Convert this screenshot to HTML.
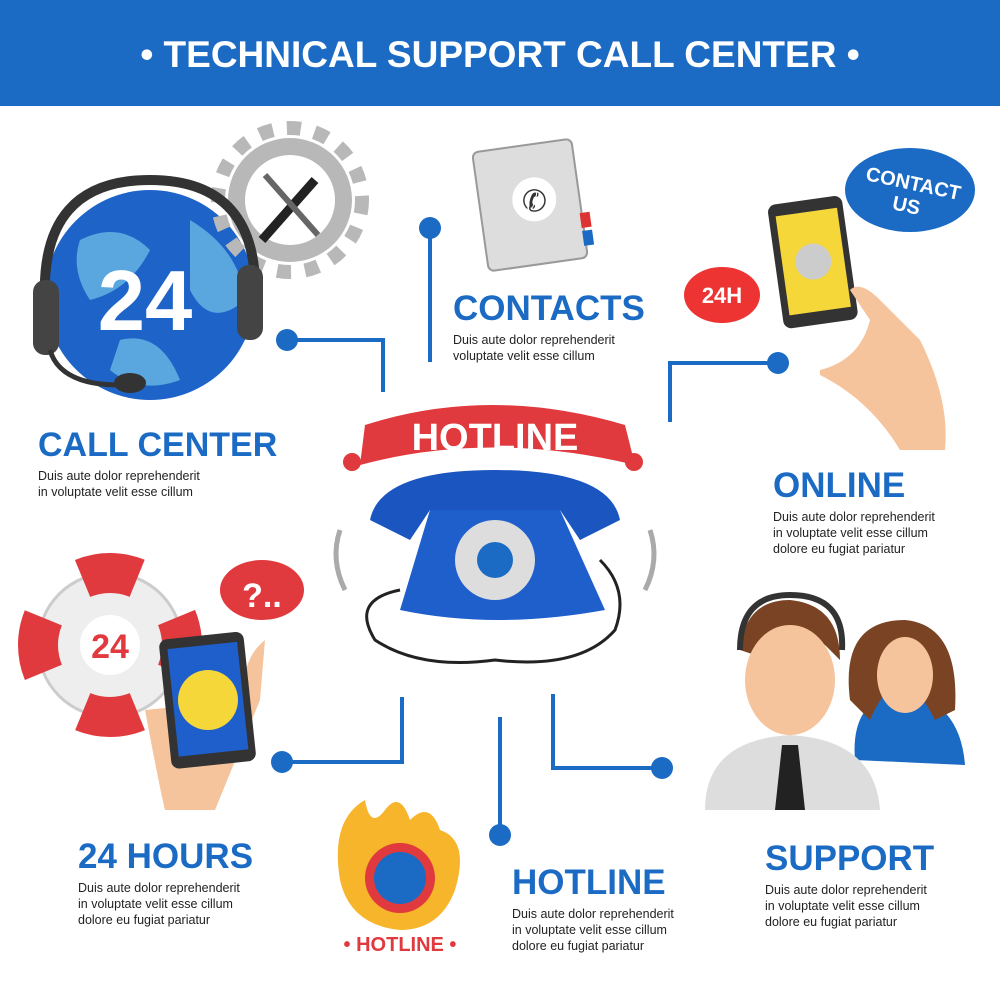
<!DOCTYPE html>
<html><head><meta charset="utf-8"><style>
html,body{margin:0;padding:0;background:#fff;}
svg{display:block}
.h{font-family:"Liberation Sans",sans-serif;font-weight:bold;fill:#1b6bc4;font-size:35px}
.b{font-family:"Liberation Sans",sans-serif;fill:#222;font-size:12.5px}
</style></head><body>
<svg width="1000" height="1000" viewBox="0 0 1000 1000" xmlns="http://www.w3.org/2000/svg">
<rect width="1000" height="106" fill="#1b6bc4"/>
<text x="500" y="67" text-anchor="middle" font-family="Liberation Sans,sans-serif" font-weight="bold" font-size="37" fill="#fff">• TECHNICAL SUPPORT CALL CENTER •</text>

<g stroke="#1b6bc4" stroke-width="4" fill="none">
<polyline points="287,340 383,340 383,392"/>
<polyline points="430,228 430,362"/>
<polyline points="778,363 670,363 670,422"/>
<polyline points="282,762 402,762 402,697"/>
<polyline points="500,835 500,717"/>
<polyline points="662,768 553,768 553,694"/>
</g>
<g fill="#1b6bc4">
<circle cx="287" cy="340" r="11"/><circle cx="430" cy="228" r="11"/><circle cx="778" cy="363" r="11"/>
<circle cx="282" cy="762" r="11"/><circle cx="500" cy="835" r="11"/><circle cx="662" cy="768" r="11"/>
</g>

<circle cx="150" cy="295" r="105" fill="#1e64c8"/>
<path d="M80,240 Q120,220 150,250 Q130,290 90,300 Q70,270 80,240Z M190,220 Q240,250 245,300 Q210,330 190,290Z M120,340 Q160,330 180,380 Q140,395 110,370Z" fill="#5aa7e0"/>
<circle cx="290" cy="200" r="62" fill="#b8b8b8"/>
<circle cx="290" cy="200" r="72" fill="none" stroke="#b8b8b8" stroke-width="14" stroke-dasharray="14 14"/>
<circle cx="290" cy="200" r="45" fill="#fff"/>
<path d="M262,240 L315,180" stroke="#222" stroke-width="9"/>
<path d="M265,175 L318,235" stroke="#666" stroke-width="6"/>
<path d="M45,300 Q40,180 150,180 Q260,180 255,300" stroke="#333" stroke-width="10" fill="none"/>
<rect x="33" y="280" width="26" height="75" rx="12" fill="#444"/>
<rect x="237" y="265" width="26" height="75" rx="12" fill="#444"/>
<path d="M50,350 Q60,385 120,385" stroke="#333" stroke-width="5" fill="none"/>
<ellipse cx="130" cy="383" rx="16" ry="10" fill="#333"/>
<text x="145" y="330" text-anchor="middle" font-family="Liberation Sans,sans-serif" font-weight="bold" font-size="85" fill="#fff">24</text>

<g transform="rotate(-8 530 205)">
<rect x="480" y="145" width="100" height="120" rx="6" fill="#ddd" stroke="#999" stroke-width="2"/>
<rect x="578" y="220" width="10" height="15" fill="#d33"/><rect x="578" y="238" width="10" height="15" fill="#1b6bc4"/>
<circle cx="535" cy="200" r="22" fill="#fff"/><text x="535" y="212" text-anchor="middle" font-size="30" font-family="DejaVu Sans" fill="#333">✆</text>
</g>
<text x="453" y="320" class="h">CONTACTS</text>
<text x="453" y="344" class="b">Duis aute dolor reprehenderit</text>
<text x="453" y="360" class="b">voluptate velit esse cillum</text>

<text x="38" y="456" class="h" font-size="34" style="font-size:34px">CALL CENTER</text>
<text x="38" y="480" class="b">Duis aute dolor reprehenderit</text>
<text x="38" y="496" class="b">in voluptate velit esse cillum</text>

<ellipse cx="910" cy="190" rx="65" ry="42" fill="#1b6bc4"/>
<text x="912" y="190" text-anchor="middle" font-family="Liberation Sans" font-weight="bold" font-size="20" fill="#fff" transform="rotate(12 912 190)">CONTACT</text>
<text x="905" y="212" text-anchor="middle" font-family="Liberation Sans" font-weight="bold" font-size="20" fill="#fff" transform="rotate(12 905 212)">US</text>
<g transform="rotate(-8 810 260)">
<rect x="775" y="200" width="75" height="125" rx="8" fill="#333"/>
<rect x="782" y="212" width="62" height="100" fill="#f5d73a"/>
<circle cx="813" cy="262" r="18" fill="#ccc"/>
</g>
<path d="M820,370 Q860,360 870,320 L850,290 Q860,280 880,300 L920,340 Q950,400 945,450 L900,450 Q870,400 820,375Z" fill="#f6c49c"/>
<ellipse cx="722" cy="295" rx="38" ry="28" fill="#e33"/>
<text x="722" y="303" text-anchor="middle" font-family="Liberation Sans" font-weight="bold" font-size="22" fill="#fff">24H</text>
<text x="773" y="497" class="h">ONLINE</text>
<text x="773" y="521" class="b">Duis aute dolor reprehenderit</text>
<text x="773" y="537" class="b">in voluptate velit esse cillum</text>
<text x="773" y="553" class="b">dolore eu fugiat pariatur</text>

<path d="M365,425 Q490,385 625,425 L635,465 Q490,430 360,465Z" fill="#e03a3e"/>
<text x="495" y="450" text-anchor="middle" font-family="Liberation Sans" font-weight="bold" font-size="38" fill="#fff">HOTLINE</text>
<circle cx="352" cy="462" r="9" fill="#e03a3e"/><circle cx="634" cy="462" r="9" fill="#e03a3e"/>
<path d="M370,520 Q380,470 495,470 Q610,470 620,520 L580,540 L560,510 L430,510 L410,540Z" fill="#1b55c0"/>
<path d="M430,510 L560,510 L605,610 Q495,630 400,610Z" fill="#1e5fcc"/>
<circle cx="495" cy="560" r="40" fill="#ddd"/><circle cx="495" cy="560" r="18" fill="#1b6bc4"/>
<path d="M400,590 Q350,600 375,640 Q420,670 495,660 Q580,670 615,630 Q630,590 600,560" stroke="#222" stroke-width="3" fill="none"/>
<path d="M340,530 Q330,560 345,590" stroke="#aaa" stroke-width="5" fill="none"/>
<path d="M650,530 Q660,560 645,590" stroke="#aaa" stroke-width="5" fill="none"/>

<circle cx="110" cy="645" r="72" fill="#eee" stroke="#ccc" stroke-width="3"/>
<circle cx="110" cy="645" r="72" fill="none" stroke="#e03a3e" stroke-width="40" stroke-dasharray="56 57" stroke-dashoffset="28"/>
<circle cx="110" cy="645" r="30" fill="#fff"/>
<text x="110" y="658" text-anchor="middle" font-family="Liberation Sans" font-weight="bold" font-size="34" fill="#e03a3e">24</text>
<ellipse cx="262" cy="590" rx="42" ry="30" fill="#e03a3e"/>
<text x="262" y="607" text-anchor="middle" font-family="Liberation Sans" font-weight="bold" font-size="34" fill="#fff">?..</text>
<path d="M145,710 Q160,790 165,810 L215,810 L260,700 L265,640 Q240,660 245,700Z" fill="#f6c49c"/>
<g transform="rotate(-6 210 700)"><rect x="165" y="635" width="85" height="130" rx="8" fill="#333"/><rect x="173" y="645" width="70" height="108" fill="#1e5fcc"/></g>
<circle cx="208" cy="700" r="30" fill="#f5d73a"/>
<text x="78" y="868" class="h">24 HOURS</text>
<text x="78" y="892" class="b">Duis aute dolor reprehenderit</text>
<text x="78" y="908" class="b">in voluptate velit esse cillum</text>
<text x="78" y="924" class="b">dolore eu fugiat pariatur</text>

<path d="M340,880 Q330,820 365,800 Q370,830 385,810 Q400,790 410,820 Q430,800 440,830 Q470,840 455,890 Q440,930 400,930 Q350,925 340,880Z" fill="#f7b52b"/>
<circle cx="400" cy="878" r="35" fill="#e03a3e"/><circle cx="400" cy="878" r="26" fill="#1b6bc4"/>
<text x="400" y="951" text-anchor="middle" font-family="Liberation Sans" font-weight="bold" font-size="20" fill="#e03a3e">• HOTLINE •</text>
<text x="512" y="894" class="h">HOTLINE</text>
<text x="512" y="918" class="b">Duis aute dolor reprehenderit</text>
<text x="512" y="934" class="b">in voluptate velit esse cillum</text>
<text x="512" y="950" class="b">dolore eu fugiat pariatur</text>

<path d="M855,760 Q850,700 900,690 Q960,700 965,765Z" fill="#1b6bc4"/>
<path d="M850,700 Q840,620 905,620 Q960,625 955,710 L935,720 Q900,650 870,720Z" fill="#7a4424"/>
<ellipse cx="905" cy="675" rx="28" ry="38" fill="#f6c49c"/>
<path d="M705,810 Q705,740 790,735 Q875,740 880,810Z" fill="#ddd"/>
<path d="M782,745 L798,745 L805,810 L775,810Z" fill="#222"/>
<path d="M740,650 Q745,600 790,600 Q840,605 840,660 L825,645 Q790,625 755,655Z" fill="#7a4424"/>
<ellipse cx="790" cy="680" rx="45" ry="55" fill="#f6c49c"/>
<path d="M740,650 Q740,595 790,595 Q845,595 842,650" stroke="#333" stroke-width="6" fill="none"/>
<text x="765" y="870" class="h">SUPPORT</text>
<text x="765" y="894" class="b">Duis aute dolor reprehenderit</text>
<text x="765" y="910" class="b">in voluptate velit esse cillum</text>
<text x="765" y="926" class="b">dolore eu fugiat pariatur</text>
</svg>
</body></html>
